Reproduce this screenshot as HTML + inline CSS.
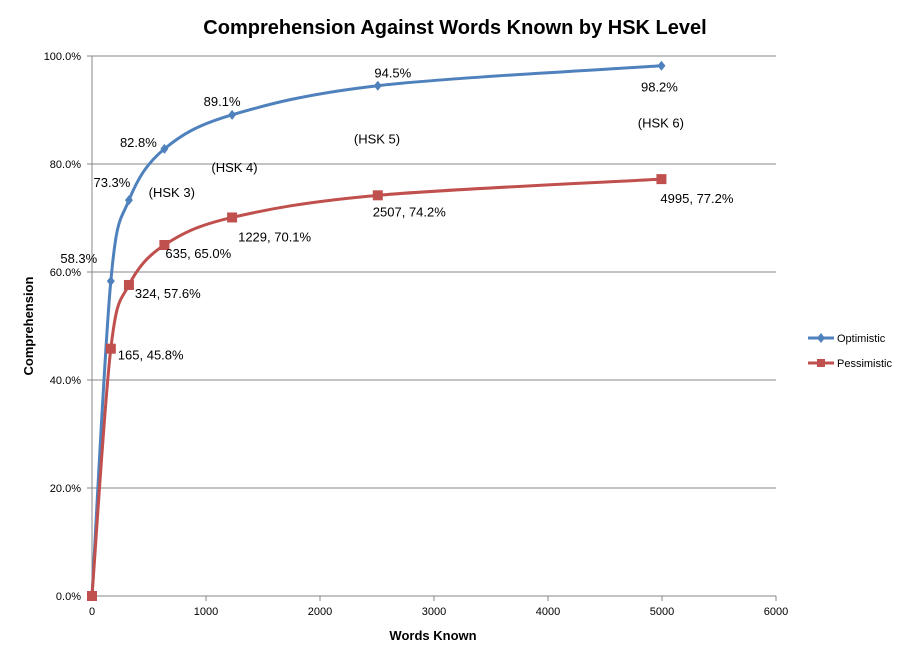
<!DOCTYPE html>
<html><head><meta charset="utf-8"><style>
html,body{margin:0;padding:0;background:#fff;}
svg{display:block;font-family:"Liberation Sans",sans-serif;}
</style></head><body>
<svg id="chart" width="912" height="662" viewBox="0 0 912 662">
<text x="455" y="34" text-anchor="middle" font-size="20" font-weight="bold" fill="#000">Comprehension Against Words Known by HSK Level</text>
<g id="grid"></g>
<g id="axes"></g>
<g id="series"></g>
<g id="labels"></g>
<text x="433" y="640" text-anchor="middle" font-size="13" font-weight="bold">Words Known</text>
<text transform="translate(33,326) rotate(-90)" text-anchor="middle" font-size="13" font-weight="bold">Comprehension</text>
<g>
<g>
<line x1="808" y1="338" x2="834" y2="338" stroke="#4F81BD" stroke-width="3"/>
<path d="M821,333 L825,338 L821,343 L817,338Z" fill="#4F81BD"/>
<text x="837" y="342" font-size="11">Optimistic</text></g>
<g>
<line x1="808" y1="363" x2="834" y2="363" stroke="#C0504D" stroke-width="3"/>
<rect x="817" y="359" width="8" height="8" fill="#C0504D"/>
<text x="837" y="367" font-size="11">Pessimistic</text></g>
</g>
</svg>
<script>
const words=[0,165,324,635,1229,2507,4995];
const optimistic=[0,58.3,73.3,82.8,89.1,94.5,98.2];
const pessimistic=[0,45.8,57.6,65.0,70.1,74.2,77.2];
const xTicks=[0,1000,2000,3000,4000,5000,6000];
const yTicks=[0,20,40,60,80,100];
const hskNames=["(HSK 3)","(HSK 4)","(HSK 5)","(HSK 6)"];
const hskX=[700,1250,2500,4990];
const hskY=[74.8,79.4,84.7,87.7];

const NS="http://www.w3.org/2000/svg";
const X=v=>92+v*(684/6000);
const Y=v=>596-v*5.4;
function mk(tag,attrs,parent,txt){const e=document.createElementNS(NS,tag);for(const k in attrs)e.setAttribute(k,attrs[k]);if(txt!==undefined)e.textContent=txt;parent.appendChild(e);return e;}
const grid=document.getElementById('grid'),axes=document.getElementById('axes'),series=document.getElementById('series'),labels=document.getElementById('labels');
yTicks.forEach(t=>{
  if(t>0){const g=mk('line',{x1:92,x2:776,y1:Y(t),y2:Y(t),stroke:'#878787','stroke-width':1},grid);
  
  }
  const tk=mk('line',{x1:87,x2:92,y1:Y(t),y2:Y(t),stroke:'#878787'},axes);
  const l=mk('text',{x:81,y:Y(t)+4,'text-anchor':'end','font-size':11},axes,t.toFixed(1)+'%');
  
  
});
mk('line',{x1:92,x2:92,y1:56,y2:596,stroke:'#878787'},axes);
mk('line',{x1:92,x2:776,y1:596,y2:596,stroke:'#878787'},axes);
xTicks.forEach(t=>{
  mk('line',{x1:X(t),x2:X(t),y1:596,y2:601,stroke:'#878787'},axes);
  const l=mk('text',{x:X(t),y:615,'text-anchor':'middle','font-size':11},axes,String(t));
  
  
});
function smooth(xs,ys){
  const p=xs.map((x,i)=>[X(x),Y(ys[i])]);
  let d=`M${p[0][0]},${p[0][1]}`;
  for(let i=0;i<p.length-1;i++){
    const p0=p[i-1]||p[i],p1=p[i],p2=p[i+1],p3=p[i+2]||p[i+1];
    const c1=[p1[0]+(p2[0]-p0[0])/6,p1[1]+(p2[1]-p0[1])/6];
    const c2=[p2[0]-(p3[0]-p1[0])/6,p2[1]-(p3[1]-p1[1])/6];
    d+=` C${c1[0]},${c1[1]} ${c2[0]},${c2[1]} ${p2[0]},${p2[1]}`;
  }
  return d;
}
const lo=mk('path',{d:smooth(words,optimistic),fill:'none',stroke:'#4F81BD','stroke-width':3},series);


const lp=mk('path',{d:smooth(words,pessimistic),fill:'none',stroke:'#C0504D','stroke-width':3},series);


words.forEach((w,i)=>{
  const x=X(w),y=Y(optimistic[i]);
  const m=mk('path',{d:`M${x},${y-5} L${x+4},${y} L${x},${y+5} L${x-4},${y}Z`,fill:'#4F81BD'},series);
  
  
  const y2=Y(pessimistic[i]);
  const r=mk('rect',{x:x-5,y:y2-5,width:10,height:10,fill:'#C0504D'},series);
  
  
});
const oDx=[0,-32,-17,-26,-10,15,-2],oDy=[0,-23,-18,-7,-14,-13,21];
const pDx=[0,7,6,1,6,-5,-1],pDy=[0,6,8,8,19,16,19];
for(let i=1;i<words.length;i++){
  const a=mk('text',{x:X(words[i])+oDx[i],y:Y(optimistic[i])+oDy[i]+5,'text-anchor':'middle','font-size':13},labels,optimistic[i].toFixed(1)+'%');
  
  
  const b=mk('text',{x:X(words[i])+pDx[i],y:Y(pessimistic[i])+pDy[i]+5,'font-size':13},labels,words[i]+', '+pessimistic[i].toFixed(1)+'%');
  
  
}
hskNames.forEach((n,i)=>{
  const t=mk('text',{x:X(hskX[i]),y:Y(hskY[i])+5,'text-anchor':'middle','font-size':13},labels,n);
  
  
});
</script>
</body></html>
